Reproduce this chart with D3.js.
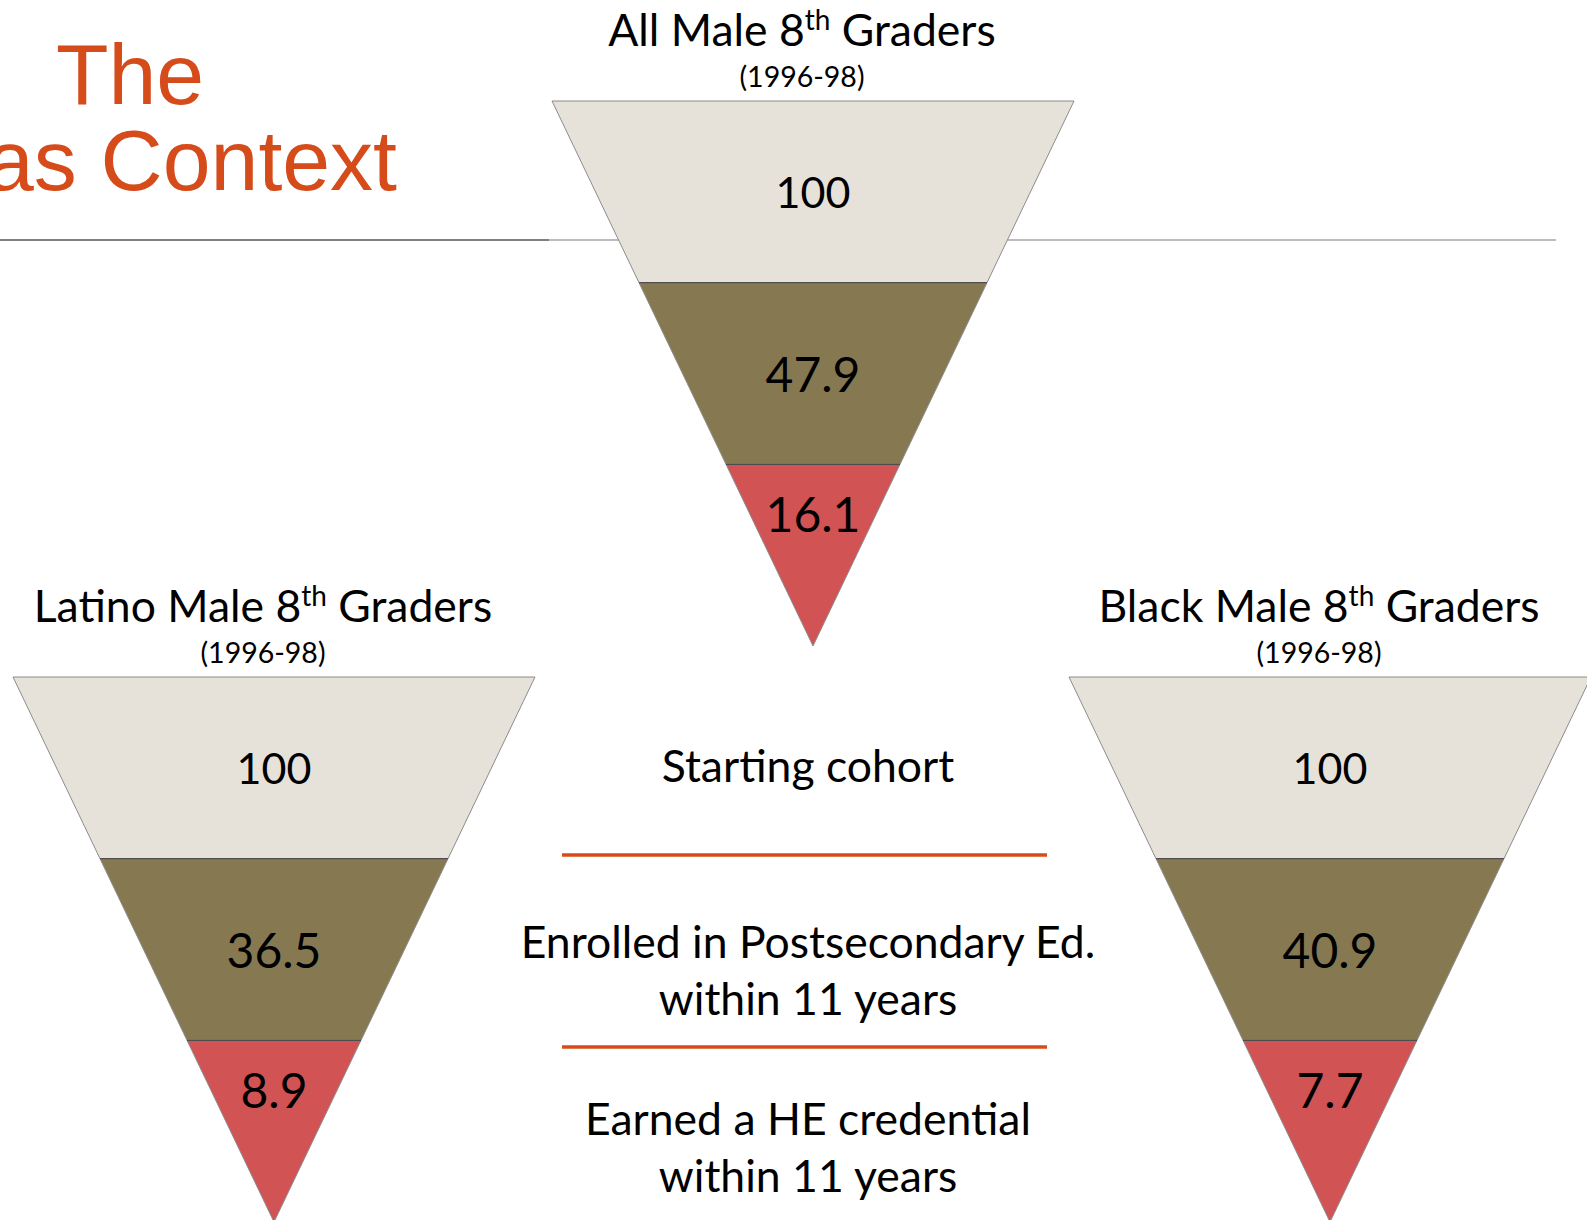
<!DOCTYPE html>
<html>
<head>
<meta charset="utf-8">
<script src="https://cdn.jsdelivr.net/npm/d3@7"></script>
<style>
  html, body { margin: 0; padding: 0; background: #fff; }
  svg { display: block; }
</style>
</head>
<body>
<svg id="chart" width="1587" height="1220"></svg>
<script>
// the values
var groups = ["All Male", "Latino Male", "Black Male"];
var period = "(1996-98)";
var stages = ["Starting cohort", "Enrolled in Postsecondary Ed.", "Earned a HE credential"];
var stageNotes = ["", "within 11 years", "within 11 years"];
var allMale = [100, 47.9, 16.1];
var latinoMale = [100, 36.5, 8.9];
var blackMale = [100, 40.9, 7.7];
var bandColors = ["#e6e2da", "#867952", "#d15353"];
var orange = "#d54b1a";

var svg = d3.select("#chart");
var font = "Lato, 'Open Sans', sans-serif";

// gray rule under the title
svg.append("line").attr("x1", 0).attr("x2", 549).attr("y1", 240).attr("y2", 240)
    .attr("stroke", "#808080").attr("stroke-width", 2);
svg.append("line").attr("x1", 549).attr("x2", 1556).attr("y1", 240).attr("y2", 240)
    .attr("stroke", "#a6a6a6").attr("stroke-width", 1.5);

// slide title, cut off at the left edge
svg.append("text").attr("x", 56).attr("y", 104)
    .style("font-family", "'Liberation Sans', Arial, sans-serif").style("font-size", "86px")
    .attr("fill", orange).text("The");
svg.append("text").attr("x", 397).attr("y", 190).attr("text-anchor", "end")
    .style("font-family", "'Liberation Sans', Arial, sans-serif").style("font-size", "86px")
    .attr("fill", orange).text("as Context");

// funnels: one per group
var W = 522, H = 545;
var funnels = [
    {name: groups[0], values: allMale, cx: 813, top: 101},
    {name: groups[1], values: latinoMale, cx: 274, top: 677},
    {name: groups[2], values: blackMale, cx: 1330, top: 677}
];
var labelSizes = [43, 48, 48];

function drawFunnel(f) {
    var g = svg.append("g");
    var y = d3.scaleBand().domain(d3.range(f.values.length)).range([f.top, f.top + H]);
    var half = d3.scaleLinear().domain([f.top, f.top + H]).range([W / 2, 0]);
    var line = d3.line();

    g.selectAll("path.band")
        .data(f.values)
        .enter()
        .append("path")
        .attr("class", "band")
        .attr("d", function(d, i) {
            var y0 = y(i), y1 = y(i) + y.bandwidth();
            return line([[f.cx - half(y0), y0], [f.cx + half(y0), y0],
                         [f.cx + half(y1), y1], [f.cx - half(y1), y1]]) + "Z";
        })
        .attr("fill", function(d, i) { return bandColors[i]; })
        .attr("stroke", "#8c8c8c")
        .attr("stroke-width", 1);

    // darker rules between bands
    g.selectAll("line.sep")
        .data(f.values.slice(1))
        .enter()
        .append("line")
        .attr("class", "sep")
        .attr("x1", function(d, i) { return f.cx - half(y(i + 1)); })
        .attr("x2", function(d, i) { return f.cx + half(y(i + 1)); })
        .attr("y1", function(d, i) { return y(i + 1); })
        .attr("y2", function(d, i) { return y(i + 1); })
        .attr("stroke", "#4d4d4d")
        .attr("stroke-width", 1.2);

    g.selectAll("text.val")
        .data(f.values)
        .enter()
        .append("text")
        .attr("class", "val")
        .attr("x", f.cx)
        .attr("y", function(d, i) {
            var mid = y(i) + y.bandwidth() / 2;
            return i == f.values.length - 1 ? y(i) + y.bandwidth() * 0.27 : mid;
        })
        .attr("text-anchor", "middle")
        .attr("dominant-baseline", "central")
        .style("font-family", font)
        .style("font-size", function(d, i) { return labelSizes[i] + "px"; })
        .attr("fill", "#000")
        .text(function(d) { return d; });

    // heading over the funnel
    var t = g.append("text").attr("x", f.cx - 11).attr("y", f.top - 55)
        .attr("text-anchor", "middle")
        .style("font-family", font).style("font-size", "44.5px").attr("fill", "#000");
    t.append("tspan").text(f.name + " 8");
    t.append("tspan").attr("dy", -16).style("font-size", "28px").text("th");
    t.append("tspan").attr("dy", 16).text(" Graders");
    g.append("text").attr("x", f.cx - 11).attr("y", f.top - 14)
        .attr("text-anchor", "middle")
        .style("font-family", font).style("font-size", "28.5px").attr("fill", "#000")
        .text(period);
}
funnels.forEach(drawFunnel);

// stage legend in the middle
var legendY = [767, 943, 1120];
var midX = 808;
stages.forEach(function(s, i) {
    svg.append("text").attr("x", midX).attr("y", legendY[i] + 15).attr("text-anchor", "middle")
        .style("font-family", font).style("font-size", "44.5px").attr("fill", "#000")
        .text(s);
    if (stageNotes[i]) {
        svg.append("text").attr("x", midX).attr("y", legendY[i] + 72).attr("text-anchor", "middle")
            .style("font-family", font).style("font-size", "44.5px").attr("fill", "#000")
            .text(stageNotes[i]);
    }
});
[855, 1047].forEach(function(yy) {
    svg.append("line").attr("x1", 562).attr("x2", 1047).attr("y1", yy).attr("y2", yy)
        .attr("stroke", orange).attr("stroke-width", 3.5);
});
</script>
</body>
</html>
